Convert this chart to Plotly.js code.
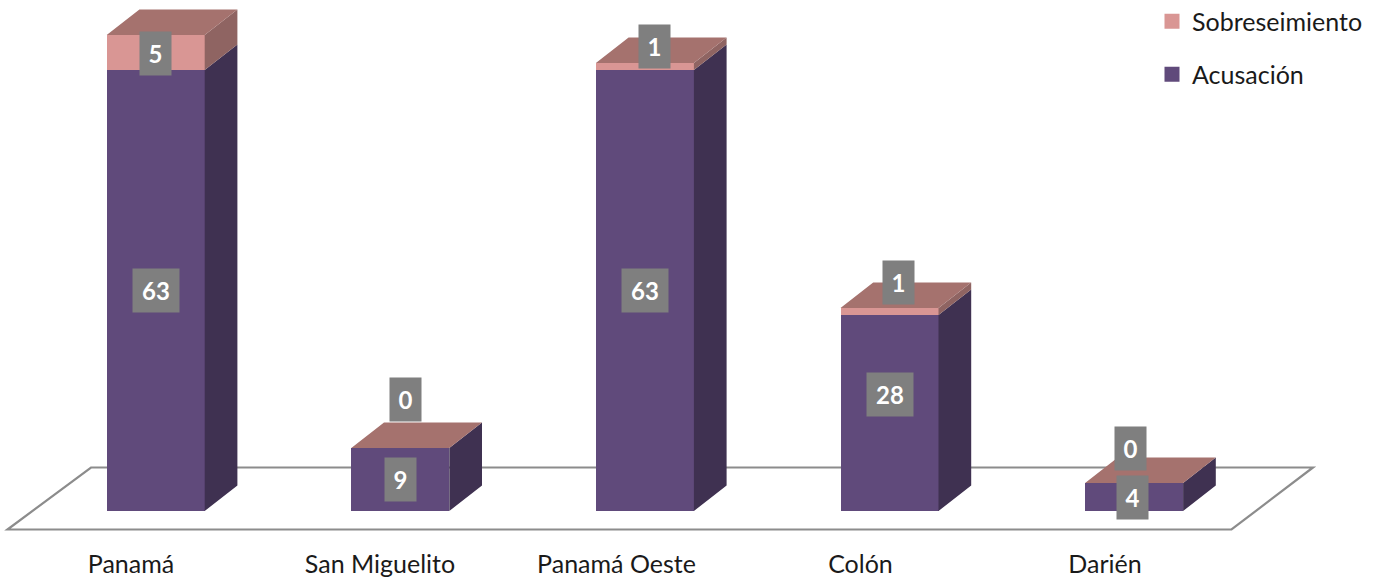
<!DOCTYPE html>
<html>
<head>
<meta charset="utf-8">
<script src="https://cdn.plot.ly/plotly-3.0.1.min.js"></script>
<style>html,body{margin:0;padding:0;background:#fff;overflow:hidden}#chart{width:1373px;height:577px}</style>
</head>
<body>
<div id="chart"></div>
<script>
// ---- data ----
const categories = ['Panamá', 'San Miguelito', 'Panamá Oeste', 'Colón', 'Darién'];
const acusacion = [63, 9, 63, 28, 4];
const sobreseimiento = [5, 0, 1, 1, 0];

// ---- colours ----
const PURPLE = '#604A7B', PURPLE_SIDE = '#3F3151';
const PINK = '#D99694', PINK_SIDE = '#8F6462', PINK_TOP = '#A5726E';
const FONT = 'Lato, sans-serif';

// ---- geometry: axis scale ----
const W = 1373, H = 577, PLOT_BOTTOM = 540;
const X0_PX = 155.7, X_STEP = 244.6, Y0_PX = 511, Y_STEP = 7;
const xv = px => (px - X0_PX) / X_STEP;
const yv = py => (Y0_PX - py) / Y_STEP;
const BAR_W = 98 / X_STEP, DX = 32.7 / X_STEP, DY = 25.5 / Y_STEP;
const idx = categories.map((_, i) => i);

// ---- faces derived from the values ----
function poly(list) {
  const xs = [], ys = [];
  list.forEach(p => { p.forEach(q => { xs.push(q[0]); ys.push(q[1]); }); xs.push(null); ys.push(null); });
  return {x: xs, y: ys};
}
const right = i => i + BAR_W / 2, left = i => i - BAR_W / 2;
const sideFace = (i, a, b) => [[right(i), a], [right(i) + DX, a + DY], [right(i) + DX, b + DY], [right(i), b]];
const topFace = (i, t) => [[left(i), t], [left(i) + DX, t + DY], [right(i) + DX, t + DY], [right(i), t]];

const purpleSide = poly(idx.map(i => sideFace(i, 0, acusacion[i])));
const pinkSide = poly(idx.filter(i => sobreseimiento[i] > 0).map(i => sideFace(i, acusacion[i], acusacion[i] + sobreseimiento[i])));
const tops = poly(idx.map(i => topFace(i, acusacion[i] + sobreseimiento[i])));
const face = (p, color) => ({x: p.x, y: p.y, type: 'scatter', mode: 'lines', fill: 'toself', fillcolor: color,
  line: {width: 0, color: color}, hoverinfo: 'skip', showlegend: false, connectgaps: false});
const legendKey = (name, color, rank) => ({x: [null], y: [null], type: 'scatter', mode: 'markers', name: name, legendrank: rank,
  legendgroup: name, marker: {symbol: 'square', size: 15, color: color}});

const traces = [
  {x: idx, y: acusacion, type: 'bar', name: 'Acusación', width: BAR_W, marker: {color: PURPLE}, showlegend: false},
  {x: idx, y: sobreseimiento, type: 'bar', name: 'Sobreseimiento', width: BAR_W, marker: {color: PINK}, showlegend: false},
  face(purpleSide, PURPLE_SIDE), face(pinkSide, PINK_SIDE), face(tops, PINK_TOP),
  legendKey('Sobreseimiento', PINK, 1), legendKey('Acusación', PURPLE, 2)
];

// ---- floor ----
const FLOOR_PX = [[7.5, 529.5], [91, 467.5], [1313, 467.5], [1231.5, 529.5]];
const floorPath = 'M' + FLOOR_PX.map(p => xv(p[0]) + ',' + yv(p[1])).join(' L') + ' Z';

// ---- label placement, in pixels, relative to the segment it labels ----
const TICK_PX = [131, 380, 616.5, 860.5, 1105];
const ACUS_NUDGE = [[0, 0], [0, 0], [0, 0], [0, -19], [-2, 0]];
const SOBR_NUDGE = [[0, 1], [5, -49], [10, -20.5], [8.5, -29.5], [-4, -35]];
function label(i, value, mid, n) {
  return {x: i, y: mid, xref: 'x', yref: 'y', text: '<b>' + value + '</b>', showarrow: false,
    xshift: n[0], yshift: -n[1], width: value >= 10 ? 46 : 31, height: 43, borderpad: 0,
    bgcolor: '#7F7F7F', align: 'center', valign: 'middle', font: {family: FONT, size: 24, color: '#fff'}};
}
const annotations = [];
idx.forEach(i => {
  annotations.push(label(i, acusacion[i], acusacion[i] / 2, ACUS_NUDGE[i]));
  annotations.push(label(i, sobreseimiento[i], acusacion[i] + sobreseimiento[i] / 2, SOBR_NUDGE[i]));
});

const layout = {
  width: W, height: H, paper_bgcolor: '#fff', plot_bgcolor: '#fff',
  margin: {l: 0, r: 0, t: 0, b: H - PLOT_BOTTOM, pad: 0, autoexpand: false},
  barmode: 'stack', hovermode: false, font: {family: FONT, color: '#1a1a1a'},
  xaxis: {range: [xv(0), xv(W)], tickmode: 'array', tickvals: TICK_PX.map(xv), ticktext: categories, automargin: false,
    showgrid: false, zeroline: false, showline: false, ticks: '', tickfont: {family: FONT, size: 25, color: '#1a1a1a'}, ticklabelstandoff: 7, fixedrange: true},
  yaxis: {range: [yv(PLOT_BOTTOM), yv(0)], showgrid: false, zeroline: false, showline: false, showticklabels: false, ticks: '', fixedrange: true},
  shapes: [{type: 'path', path: floorPath, xref: 'x', yref: 'y', layer: 'below', line: {color: '#8C8C8C', width: 2.2}, fillcolor: 'rgba(0,0,0,0)'}],
  annotations: annotations,
  legend: {x: 1152 / W, y: 1 + 1.5 / PLOT_BOTTOM, xanchor: 'left', yanchor: 'top', xref: 'paper', yref: 'paper', traceorder: 'grouped', tracegroupgap: 17.5,
    font: {family: FONT, size: 25, color: '#1a1a1a'}, bgcolor: 'rgba(0,0,0,0)', itemsizing: 'trace'},
  showlegend: true
};
Plotly.newPlot('chart', traces, layout, {displayModeBar: false, staticPlot: true});
</script>
</body>
</html>
